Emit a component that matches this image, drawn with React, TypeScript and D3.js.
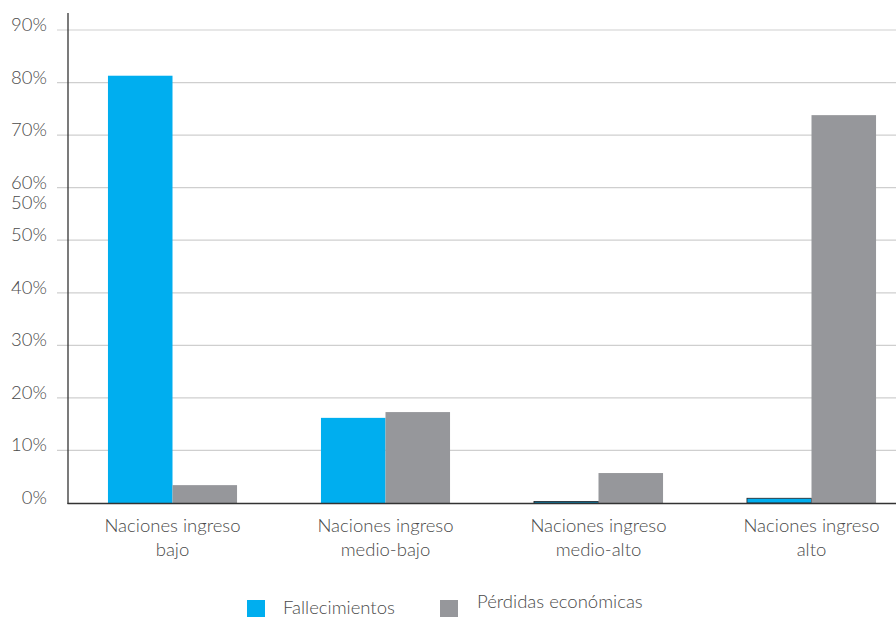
import React from "react";
import * as d3 from "d3";

const categories = [
  ["Naciones ingreso", "bajo"],
  ["Naciones ingreso", "medio-bajo"],
  ["Naciones ingreso", "medio-alto"],
  ["Naciones ingreso", "alto"],
];
const seriesNames = ["Fallecimientos", "Pérdidas económicas"];
const fallecimientos = [81.3, 16.2, 0.3, 0.9];
const perdidas = [3.4, 17.3, 5.7, 73.8];
const tickValues = [0, 10, 20, 30, 40, 50, 60, 70, 80, 90];
const tickLabels = ["0%", "10%", "20%", "30%", "40%", "50%", "60%\n50%", "70%", "80%", "90%"];

const W = 896;
const H = 618;
const FONT = "Lato, 'Open Sans', sans-serif";
const BLUE = "#00AEEF";
const GREY = "#96979B";
const TEXT = "#4a4a4a";
const FS = 18.5;

export default function App() {
  const y = d3.scaleLinear().domain([0, 90]).range([503, 30]);
  const x = d3
    .scaleBand<number>()
    .domain(d3.range(categories.length))
    .range([66, 918])
    .paddingInner(0.394)
    .paddingOuter(0.197);
  const sub = d3
    .scaleBand<number>()
    .domain([0, 1])
    .range([0, x.bandwidth()]);
  const series = [fallecimientos, perdidas];
  const colors = [BLUE, GREY];

  return (
    <svg
      width={W}
      height={H}
      style={{ position: "absolute", left: 0, top: 0, background: "#fff" }}
      fontFamily={FONT}
    >
      {/* gridlines */}
      {tickValues.map((t) =>
        t === 0 ? null : (
          <line
            key={"g" + t}
            x1={57}
            x2={W}
            y1={y(t)}
            y2={y(t)}
            stroke="#cfcfcf"
            strokeWidth={1.2}
          />
        )
      )}
      {/* tick labels */}
      {tickValues.map((t, i) => {
        const lines = tickLabels[i].split("\n");
        return (
          <text
            key={"t" + t}
            x={47}
            y={y(t) + 1}
            textAnchor="end"
            fontSize={FS}
            fontWeight={300}
            fill={TEXT}
          >
            {lines.map((l, j) => (
              <tspan key={j} x={47} dy={j === 0 ? 0 : 20}>
                {l}
              </tspan>
            ))}
          </text>
        );
      })}
      {/* bars */}
      {categories.map((_, ci) =>
        series.map((s, si) => {
          const v = s[ci];
          const top = y(v);
          const small = v < 2;
          return (
            <rect
              key={ci + "-" + si}
              x={(x(ci) as number) + (sub(si) as number)}
              y={top}
              width={sub.bandwidth()}
              height={503 - top}
              fill={colors[si]}
              stroke={small ? "#231f20" : "none"}
              strokeWidth={small ? 0.8 : 0}
            />
          );
        })
      )}
      {/* axes */}
      <line x1={68} x2={68} y1={13} y2={504} stroke="#333" strokeWidth={1.3} />
      <line x1={67.5} x2={W} y1={503.5} y2={503.5} stroke="#333" strokeWidth={1.3} />
      {/* category labels */}
      {categories.map((lines, ci) => {
        const cx = (x(ci) as number) + x.bandwidth() / 2;
        return (
          <text
            key={"c" + ci}
            x={cx}
            y={532}
            textAnchor="middle"
            fontSize={FS}
            fontWeight={300}
            fill={TEXT}
          >
            {lines.map((l, j) => (
              <tspan key={j} x={cx} dy={j === 0 ? 0 : 24}>
                {l}
              </tspan>
            ))}
          </text>
        );
      })}
      {/* legend */}
      <rect x={247} y={600} width={18} height={17} fill={BLUE} />
      <text x={283} y={614} fontSize={FS} fontWeight={300} fill={TEXT}>
        {seriesNames[0]}
      </text>
      <rect x={440} y={600} width={18} height={17} fill={GREY} />
      <text x={477} y={608} fontSize={FS} fontWeight={300} fill={TEXT}>
        {seriesNames[1]}
      </text>
    </svg>
  );
}
